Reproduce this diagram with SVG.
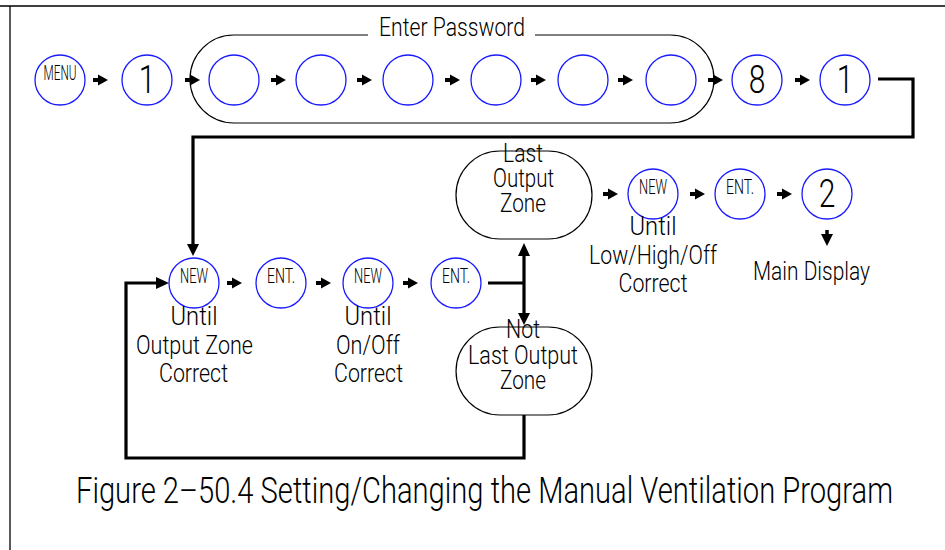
<svg xmlns="http://www.w3.org/2000/svg" width="945" height="550" viewBox="0 0 945 550">
<style>
text{font-family:Roboto,"Liberation Sans",sans-serif;font-weight:300;fill:#000;text-anchor:middle}
.c{fill:none;stroke:#1a1aff;stroke-width:1.3}
.s{fill:none;stroke:#000;stroke-width:1.2}
.w{fill:none;stroke:#000;stroke-width:3.2}
.k{font-size:15.5px}
.n{font-size:30px}
.l{font-size:20px}
.f{font-size:28px}
</style>
<defs>
<g id="ar"><path d="M0,0H7" stroke="#000" stroke-width="4"/><path d="M5,-5.5L15,0L5,5.5Z" fill="#000"/></g>
<path id="hd" d="M-6,-12L0,0L6,-12Z" fill="#000"/>
</defs>
<rect width="945" height="550" fill="#fff"/>
<g id="frame"><path d="M0,6H945M10,6V550" stroke="#000" stroke-width="1.3" fill="none"/></g>

<g id="password">
<path class="s" d="M368,35H234A44,44 0 0 0 234,123H670A44,44 0 0 0 670,35H535"/>
<text transform="translate(452,36) scale(1,1.3)" class="l" textLength="146" lengthAdjust="spacingAndGlyphs">Enter Password</text>
</g>

<g id="n-menu"><circle class="c" cx="60" cy="80" r="25"/><text transform="translate(60,80) scale(1,1.3)" class="k" textLength="33" lengthAdjust="spacingAndGlyphs">MENU</text></g>
<g id="n-1a"><circle class="c" cx="147" cy="80" r="25"/><text transform="translate(147,93) scale(1,1.3)" class="n">1</text></g>
<g id="n-p1"><circle class="c" cx="234" cy="80" r="25"/></g>
<g id="n-p2"><circle class="c" cx="321" cy="80" r="25"/></g>
<g id="n-p3"><circle class="c" cx="408" cy="80" r="25"/></g>
<g id="n-p4"><circle class="c" cx="496" cy="80" r="25"/></g>
<g id="n-p5"><circle class="c" cx="583" cy="80" r="25"/></g>
<g id="n-p6"><circle class="c" cx="671" cy="80" r="25"/></g>
<g id="n-8"><circle class="c" cx="757" cy="80" r="25"/><text transform="translate(757,93) scale(1,1.3)" class="n">8</text></g>
<g id="n-1b"><circle class="c" cx="845" cy="80" r="25"/><text transform="translate(845,93) scale(1,1.3)" class="n">1</text></g>

<g id="n-new1"><circle class="c" cx="194" cy="283" r="25"/><text transform="translate(194,283) scale(1,1.3)" class="k" textLength="28" lengthAdjust="spacingAndGlyphs">NEW</text>
<text transform="translate(194,325) scale(1,1.3)" class="l" textLength="47" lengthAdjust="spacingAndGlyphs">Until</text>
<text transform="translate(194.5,354) scale(1,1.3)" class="l" textLength="117" lengthAdjust="spacingAndGlyphs">Output Zone</text>
<text transform="translate(193.5,382) scale(1,1.3)" class="l" textLength="69" lengthAdjust="spacingAndGlyphs">Correct</text></g>
<g id="n-ent1"><circle class="c" cx="281" cy="283" r="25"/><text transform="translate(281,283) scale(1,1.3)" class="k" textLength="28" lengthAdjust="spacingAndGlyphs">ENT.</text></g>
<g id="n-new2"><circle class="c" cx="368" cy="283" r="25"/><text transform="translate(368,283) scale(1,1.3)" class="k" textLength="28" lengthAdjust="spacingAndGlyphs">NEW</text>
<text transform="translate(368,325) scale(1,1.3)" class="l" textLength="47" lengthAdjust="spacingAndGlyphs">Until</text>
<text transform="translate(368,354) scale(1,1.3)" class="l" textLength="64" lengthAdjust="spacingAndGlyphs">On/Off</text>
<text transform="translate(368.5,382) scale(1,1.3)" class="l" textLength="69" lengthAdjust="spacingAndGlyphs">Correct</text></g>
<g id="n-ent2"><circle class="c" cx="456" cy="283" r="25"/><text transform="translate(456,283) scale(1,1.3)" class="k" textLength="28" lengthAdjust="spacingAndGlyphs">ENT.</text></g>

<g id="n-last"><path class="s" d="M500,151H548A44,44 0 0 1 548,239H500A44,44 0 0 1 500,151Z"/>
<text transform="translate(523,162) scale(1,1.3)" class="l" textLength="40" lengthAdjust="spacingAndGlyphs">Last</text>
<text transform="translate(523.5,187) scale(1,1.3)" class="l" textLength="61" lengthAdjust="spacingAndGlyphs">Output</text>
<text transform="translate(523,212) scale(1,1.3)" class="l" textLength="46" lengthAdjust="spacingAndGlyphs">Zone</text></g>
<g id="n-notlast"><path class="s" d="M500,327H548A44,44 0 0 1 548,415H500A44,44 0 0 1 500,327Z"/>
<text transform="translate(523,338) scale(1,1.3)" class="l" textLength="34" lengthAdjust="spacingAndGlyphs">Not</text>
<text transform="translate(523,364) scale(1,1.3)" class="l" textLength="110" lengthAdjust="spacingAndGlyphs">Last Output</text>
<text transform="translate(523,389) scale(1,1.3)" class="l" textLength="46" lengthAdjust="spacingAndGlyphs">Zone</text></g>

<g id="n-new3"><circle class="c" cx="653" cy="194" r="25"/><text transform="translate(653,194) scale(1,1.3)" class="k" textLength="28" lengthAdjust="spacingAndGlyphs">NEW</text>
<text transform="translate(653,235) scale(1,1.3)" class="l" textLength="47" lengthAdjust="spacingAndGlyphs">Until</text>
<text transform="translate(653,264) scale(1,1.3)" class="l" textLength="128" lengthAdjust="spacingAndGlyphs">Low/High/Off</text>
<text transform="translate(653,292) scale(1,1.3)" class="l" textLength="69" lengthAdjust="spacingAndGlyphs">Correct</text></g>
<g id="n-ent3"><circle class="c" cx="740" cy="194" r="25"/><text transform="translate(740,194) scale(1,1.3)" class="k" textLength="28" lengthAdjust="spacingAndGlyphs">ENT.</text></g>
<g id="n-2"><circle class="c" cx="827" cy="194" r="25"/><text transform="translate(827,207) scale(1,1.3)" class="n">2</text></g>
<g id="n-main"><text transform="translate(811.5,280) scale(1,1.3)" class="l" textLength="117" lengthAdjust="spacingAndGlyphs">Main Display</text></g>

<g id="connectors">
<use href="#ar" x="93" y="80"/>
<use href="#ar" x="185" y="80"/>
<use href="#ar" x="271" y="80"/>
<use href="#ar" x="357" y="80"/>
<use href="#ar" x="445" y="80"/>
<use href="#ar" x="531" y="80"/>
<use href="#ar" x="618" y="80"/>
<use href="#ar" x="708" y="80"/>
<use href="#ar" x="795" y="80"/>
<use href="#ar" x="227" y="283"/>
<use href="#ar" x="316" y="283"/>
<use href="#ar" x="403" y="283"/>
<use href="#ar" x="603" y="194"/>
<use href="#ar" x="690" y="194"/>
<use href="#ar" x="777" y="194"/>
<path class="w" d="M878,79H913V137H193V246"/>
<use href="#hd" x="193" y="256"/>
<path class="w" d="M524,415V458H126V283H158"/>
<path d="M156,277L169,283L156,289Z" fill="#000"/>
<path class="w" d="M488,283H524M524,252V316"/>
<path d="M518,256L524,243L530,256Z" fill="#000"/>
<use href="#hd" x="524" y="325"/>
<path d="M827,230V238" stroke="#000" stroke-width="3.5"/>
<use href="#hd" x="827" y="246"/>
</g>

<g id="caption"><text transform="translate(484.5,503) scale(1,1.3)" class="f" textLength="817" lengthAdjust="spacingAndGlyphs">Figure 2–50.4 Setting/Changing the Manual Ventilation Program</text></g>
</svg>
